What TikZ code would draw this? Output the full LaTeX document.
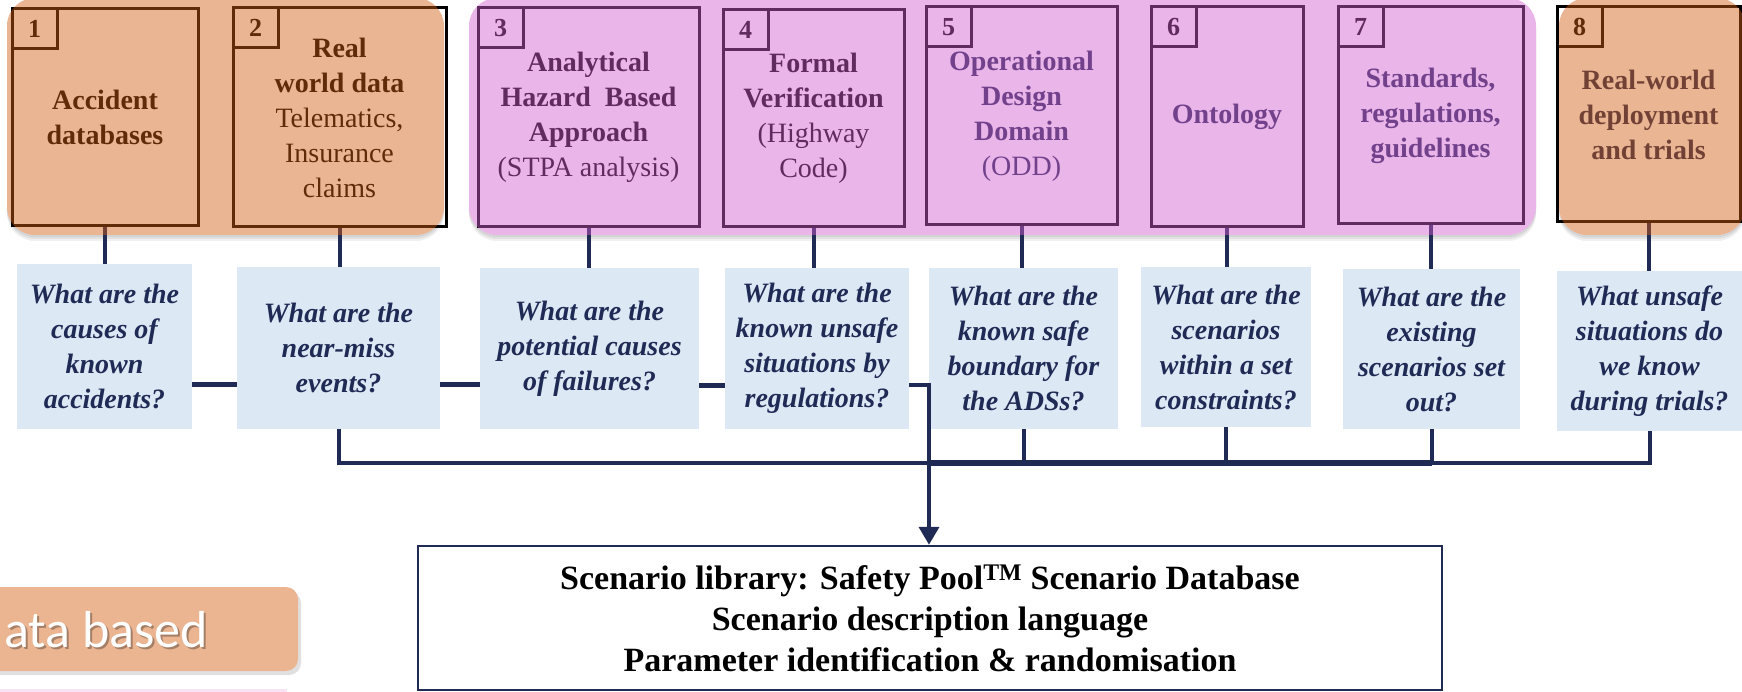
\documentclass[tikz,border=0pt]{standalone}
\usepackage{fontspec}
\setmainfont{Liberation Serif}
\newfontfamily\carlito{Carlito}
\usetikzlibrary{arrows.meta}
\definecolor{navy}{RGB}{31,42,85}
\definecolor{qfill}{RGB}{221,232,245}
\definecolor{ovorange}{RGB}{211,94,18}
\definecolor{ovpink}{RGB}{211,94,207}
\definecolor{dbfill}{RGB}{235,181,146}
\definecolor{sliver}{RGB}{246,228,246}
\begin{document}
\begin{tikzpicture}[x=1pt,y=-1pt,
  topbox/.style={draw=black, line width=3pt, align=center, inner sep=0pt,
    font=\fontsize{28pt}{35pt}\selectfont},
  numbox/.style={draw=black, line width=3pt, anchor=north west, minimum width=45pt,
    minimum height=40pt, inner sep=0pt, font=\bfseries\fontsize{26pt}{30pt}\selectfont},
  qbox/.style={fill=qfill, align=center, inner sep=0pt, text=navy,
    font=\bfseries\itshape\fontsize{28pt}{35pt}\selectfont},
  conn/.style={draw=navy, line width=4.5pt},
  ovl/.style={fill opacity=0.46, rounded corners=28pt},
  shad/.style={fill=black, opacity=0.06, rounded corners=28pt}
]
\useasboundingbox (0,0) rectangle (1742,692);
\fill[white] (0,0) rectangle (1742,692);

% shadows of the group backgrounds
\foreach \d in {2,4,6}{
  \fill[shad] (7,-2+\d) rectangle (444,235+\d);
  \fill[shad] (469,-2+\d) rectangle (1536,235+\d);
  \fill[shad] (1559,-2+\d) rectangle (1745,235+\d);
}
\fill[white, rounded corners=28pt] (7,-2) rectangle (444,235);
\fill[white, rounded corners=28pt] (469,-2) rectangle (1536,235);
\fill[white, rounded corners=28pt] (1559,-2) rectangle (1745,235);

% top boxes
\node[topbox, minimum width=186pt, minimum height=217pt] (b1) at (105,117.5)
  {\textbf{Accident}\\\textbf{databases}};
\node[topbox, minimum width=213pt, minimum height=219pt] (b2) at (339.5,117.5)
  {\textbf{Real}\\\textbf{world data}\\Telematics,\\Insurance\\claims};
\node[topbox, minimum width=221pt, minimum height=219pt] (b3) at (588.5,117.5)
  {\textbf{Analytical}\\\textbf{Hazard\ \ Based}\\\textbf{Approach}\\(STPA analysis)};
\node[topbox, minimum width=181pt, minimum height=217pt] (b4) at (813.5,118.5)
  {\textbf{Formal}\\\textbf{Verification}\\(Highway\\Code)};
\node[topbox, text=navy, minimum width=191pt, minimum height=218pt] (b5) at (1021.5,116)
  {\textbf{Operational}\\\textbf{Design}\\\textbf{Domain}\\(ODD)};
\node[topbox, text=navy, minimum width=152pt, minimum height=220pt] (b6) at (1227,117)
  {\textbf{Ontology}};
\node[topbox, text=navy, minimum width=185pt, minimum height=217pt] (b7) at (1430.5,115.5)
  {\textbf{Standards,}\\\textbf{regulations,}\\\textbf{guidelines}};
\node[topbox, text=navy, minimum width=183pt, minimum height=215pt] (b8) at (1648.5,114.5)
  {\textbf{Real-world}\\\textbf{deployment}\\\textbf{and trials}};

% number squares
\node[numbox] (n1) at (b1.north west) {1};
\node[numbox] (n2) at (b2.north west) {2};
\node[numbox] (n3) at (b3.north west) {3};
\node[numbox] (n4) at (b4.north west) {4};
\node[numbox] (n5) at (b5.north west) {5};
\node[numbox] (n6) at (b6.north west) {6};
\node[numbox] (n7) at (b7.north west) {7};
\node[numbox] (n8) at (b8.north west) {8};

% question boxes
\node[qbox, minimum width=175pt, minimum height=165pt] (q1) at (104.5,346.5)
  {What are the\\causes of\\known\\accidents?};
\node[qbox, minimum width=203pt, minimum height=162pt] (q2) at (338.5,348)
  {What are the\\near-miss\\events?};
\node[qbox, minimum width=219pt, minimum height=161pt] (q3) at (589.5,348.5)
  {What are the\\potential causes\\of failures?};
\node[qbox, minimum width=184pt, minimum height=161pt] (q4) at (817,348.5)
  {What are the\\known unsafe\\situations by\\regulations?};
\node[qbox, minimum width=189pt, minimum height=161pt] (q5) at (1023.5,348.5)
  {What are the\\known safe\\boundary for\\the ADSs?};
\node[qbox, minimum width=170pt, minimum height=160pt] (q6) at (1226,347)
  {What are the\\scenarios\\within a set\\constraints?};
\node[qbox, minimum width=177pt, minimum height=160pt] (q7) at (1431.5,349)
  {What are the\\existing\\scenarios set\\out?};
\node[qbox, minimum width=185pt, minimum height=160pt] (q8) at (1649.5,351)
  {What unsafe\\situations do\\we know\\during trials?};

% stubs from the top boxes
\foreach \i in {1,...,8}{
  \draw[conn, line width=4pt] (b\i.south) -- (b\i.south |- q\i.north);
}

% group overlays
\fill[ovorange, ovl] (7,-2) rectangle (444,235);
\fill[ovpink, ovl] (469,-2) rectangle (1536,235);
\fill[ovorange, ovl] (1559,-2) rectangle (1745,235);

% scenario library
\node[draw=navy, line width=2.5pt, fill=white, minimum width=1024pt, minimum height=144pt,
  align=center, font=\bfseries\fontsize{34pt}{41pt}\selectfont] (lib) at (930,618)
  {Scenario library: Safety Pool\textsuperscript{TM} Scenario Database\\
   Scenario description language\\
   Parameter identification \& randomisation};

% connectors
\coordinate (hl) at (0,384);
\coordinate (bus) at (0,463);
\coordinate (trunk) at (929,385);
\draw[conn, line width=5pt] (q1.east |- hl) -- (q2.west |- hl);
\draw[conn, line width=5pt] (q2.east |- hl) -- (q3.west |- hl);
\draw[conn, line width=5pt] ([yshift=-1.5pt]q3.east |- hl) -- ([yshift=-1.5pt]q4.west |- hl);
\draw[conn, line width=4pt] (q2.south) -- (q2.south |- bus) -- (trunk |- bus);
\draw[conn, line width=5.5pt] (trunk |- bus) -- (q7.south |- bus);
\draw[conn, line width=4pt] (q7.south |- bus) -- (q8.south |- bus) -- (q8.south);
\draw[conn, line width=4pt] (q5.south) -- (q5.south |- bus);
\draw[conn, line width=4pt] (q6.south) -- (q6.south |- bus);
\draw[conn, line width=4pt] (q7.south) -- (q7.south |- bus);
\draw[conn, line width=4pt, -{Triangle[width=20pt,length=18pt]}]
  (q4.east |- trunk) -- (trunk) -- (trunk |- lib.north);

% cut-off box at bottom left
\fill[black, opacity=0.12, rounded corners=12pt] (-30,591) rectangle (301,675);
\node[fill=dbfill, rounded corners=12pt, minimum width=328pt, minimum height=84pt,
  inner sep=0pt] (dbox) at (134,629) {};
\node[anchor=base west, inner sep=0pt, text=black, opacity=0.3,
  font=\carlito\fontsize{52pt}{62pt}\selectfont] (dtxtsh) at (6,649) {ata based};
\node[anchor=base west, inner sep=0pt, text=white,
  font=\carlito\fontsize{52pt}{62pt}\selectfont] (dtxt) at (4,647) {ata based};
\fill[sliver] (0,689) rectangle (287,692);
\end{tikzpicture}
\end{document}
